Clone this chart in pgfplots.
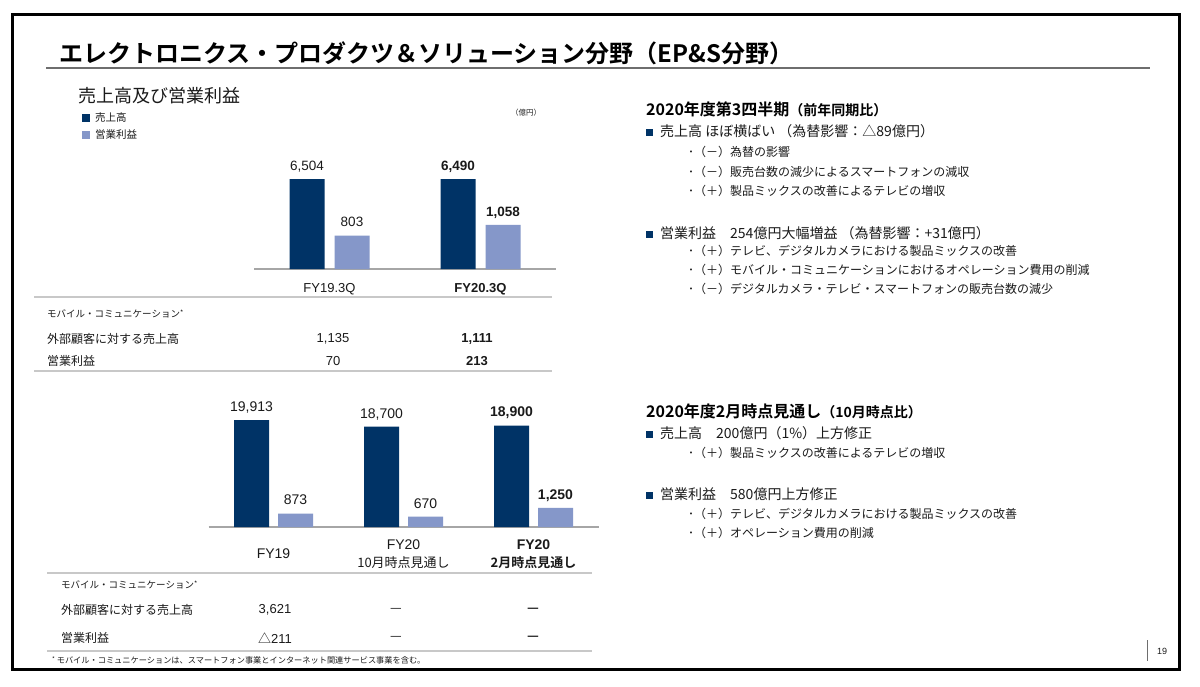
\documentclass[border=0pt]{standalone}
\usepackage{pgfplots}
\pgfplotsset{compat=1.18}
\usepackage{fontspec}
\setmainfont{Noto Sans CJK JP}[BoldFont={Noto Sans CJK JP Bold}]
\newfontfamily\ar{Liberation Sans}
\newcommand{\fs}[1]{\fontsize{#1}{#1}\selectfont}
\definecolor{navy}{HTML}{003366}
\definecolor{lightb}{HTML}{8597C9}
\definecolor{axgray}{HTML}{A6A6A6}
\definecolor{tblgray}{HTML}{C8C8C8}
\definecolor{ulgray}{HTML}{6E6E6E}
\definecolor{txt}{HTML}{1A1A1A}
\pgfplotsset{
  barbase/.style={scale only axis, ymin=0, clip=false,
    point meta=explicit symbolic, nodes near coords,
    every node near coord/.append style={anchor=south, inner sep=0pt, text depth=0pt, yshift=8.5pt, text=txt}},
}
\begin{document}
\begin{tikzpicture}[x=1pt,y=1pt]
\begin{scope}[y=-1pt]
\useasboundingbox (0,0) rectangle (1200,686);
\fill[white] (0,0) rectangle (1200,686);
% frame
\draw[line width=3pt] (12.5,14.5) rectangle (1179.5,669);
% title
\node[anchor=west,inner sep=0,text=black] at (59,53) {\fs{24}\bfseries エレクトロニクス・プロダクツ＆ソリューション分野（EP\&S分野）};
\draw[draw=ulgray,line width=2pt] (46,68) -- (1150,68);
% subtitle and legend
\node[anchor=west,inner sep=0,text=txt] at (78,96) {\fs{18}売上高及び営業利益};
\fill[navy] (82,114) rectangle (90,122);
\node[anchor=west,inner sep=0,text=txt] at (95,118) {\fs{10.5}売上高};
\fill[lightb] (82,131) rectangle (90,139);
\node[anchor=west,inner sep=0,text=txt] at (95,135) {\fs{10.5}営業利益};
\node[anchor=west,inner sep=0,text=txt] at (511,113) {\fs{7.5}（億円）};

% top table
\draw[draw=tblgray,line width=1.5pt] (34,297) -- (552,297);
\node[anchor=west,inner sep=0,text=txt] at (47,314) {\fs{9.5}モバイル・コミュニケーション\raisebox{2pt}{\fs{7}*}};
\node[anchor=west,inner sep=0,text=txt] at (47,339) {\fs{12}外部顧客に対する売上高};
\node[anchor=west,inner sep=0,text=txt] at (47,361) {\fs{12}営業利益};
\node[inner sep=0,text=txt] at (333,339) {\ar\fs{13}1,135};
\node[inner sep=0,text=txt] at (477,339) {\ar\fs{13}\textbf{1,111}};
\node[inner sep=0,text=txt] at (333,361) {\ar\fs{13}70};
\node[inner sep=0,text=txt] at (477,361) {\ar\fs{13}\textbf{213}};
\draw[draw=tblgray,line width=1.5pt] (34,371) -- (552,371);

% bottom table
\draw[draw=tblgray,line width=1.5pt] (47,573) -- (592,573);
\node[anchor=west,inner sep=0,text=txt] at (61,585) {\fs{9.5}モバイル・コミュニケーション\raisebox{2pt}{\fs{7}*}};
\node[anchor=west,inner sep=0,text=txt] at (61,610) {\fs{12}外部顧客に対する売上高};
\node[anchor=west,inner sep=0,text=txt] at (61,638) {\fs{12}営業利益};
\node[inner sep=0,text=txt] at (275,610) {\ar\fs{13}3,621};
\node[inner sep=0,text=txt] at (275,638) {\fs{13}△\ar 211};
\node[inner sep=0,text=txt] at (396,610) {\fs{13}—};
\node[inner sep=0,text=txt] at (533,610) {\fs{13}\bfseries —};
\node[inner sep=0,text=txt] at (396,638) {\fs{13}—};
\node[inner sep=0,text=txt] at (533,638) {\fs{13}\bfseries —};
\draw[draw=tblgray,line width=1.5pt] (47,651) -- (592,651);
\node[anchor=west,inner sep=0,text=txt] at (52,660) {\fs{8.2}\raisebox{2pt}{\fs{6}*} モバイル・コミュニケーションは、スマートフォン事業とインターネット関連サービス事業を含む。};

% ---------- right text: block 1 ----------
\node[anchor=west,inner sep=0,text=black] at (646,109) {\fs{16}\bfseries 2020年度第3四半期{\fs{14}（前年同期比）}};
\node[anchor=west,inner sep=0,text=txt] at (646,131) {\textcolor{navy}{\rule{7pt}{7pt}}\hspace{7pt}\fs{14}売上高 ほぼ横ばい （為替影響：△89億円）};
\node[anchor=west,inner sep=0,text=txt] at (688,152) {\fs{12}･（－）為替の影響};
\node[anchor=west,inner sep=0,text=txt] at (688,172) {\fs{12}･（－）販売台数の減少によるスマートフォンの減収};
\node[anchor=west,inner sep=0,text=txt] at (688,191) {\fs{12}･（＋）製品ミックスの改善によるテレビの増収};
\node[anchor=west,inner sep=0,text=txt] at (646,233) {\textcolor{navy}{\rule{7pt}{7pt}}\hspace{7pt}\fs{14}営業利益　254億円大幅増益 （為替影響：+31億円）};
\node[anchor=west,inner sep=0,text=txt] at (688,251) {\fs{12}･（＋）テレビ、デジタルカメラにおける製品ミックスの改善};
\node[anchor=west,inner sep=0,text=txt] at (688,270) {\fs{12}･（＋）モバイル・コミュニケーションにおけるオペレーション費用の削減};
\node[anchor=west,inner sep=0,text=txt] at (688,289) {\fs{12}･（－）デジタルカメラ・テレビ・スマートフォンの販売台数の減少};

% ---------- right text: block 2 ----------
\node[anchor=west,inner sep=0,text=black] at (646,411) {\fs{16}\bfseries 2020年度2月時点見通し{\fs{14}（10月時点比）}};
\node[anchor=west,inner sep=0,text=txt] at (646,433) {\textcolor{navy}{\rule{7pt}{7pt}}\hspace{7pt}\fs{14}売上高　200億円（1\%）上方修正};
\node[anchor=west,inner sep=0,text=txt] at (688,453) {\fs{12}･（＋）製品ミックスの改善によるテレビの増収};
\node[anchor=west,inner sep=0,text=txt] at (646,494) {\textcolor{navy}{\rule{7pt}{7pt}}\hspace{7pt}\fs{14}営業利益　580億円上方修正};
\node[anchor=west,inner sep=0,text=txt] at (688,514) {\fs{12}･（＋）テレビ、デジタルカメラにおける製品ミックスの改善};
\node[anchor=west,inner sep=0,text=txt] at (688,533) {\fs{12}･（＋）オペレーション費用の削減};

% page number
\draw[draw=ulgray,line width=0.8pt] (1147,640) -- (1147,661);
\node[inner sep=0,text=txt] at (1162,651) {\ar\fs{9}19};
\end{scope}

% ---------- top chart: sales ----------
\begin{axis}[barbase, at={(254pt,-269pt)}, anchor=south west,
  width=302pt, height=100pt, xmin=-0.5, xmax=1.5, ymax=7227,
  axis x line=bottom, axis y line=none,
  x axis line style={-,draw=axgray,line width=1.3pt},
  xtick={0,1}, xticklabels={FY19.3Q,\textbf{FY20.3Q}},
  xtick style={draw=none}, ytick=\empty,
  xticklabel style={font=\ar\fs{13}, anchor=center, yshift=-18pt, text=txt},
  every node near coord/.append style={font=\ar\fs{13.5}}]
\addplot[ybar, bar width=35pt, bar shift=-22.5pt, fill=navy, draw=none,
  every node near coord/.append style={xshift=-22.5pt}]
  coordinates {(0,6504) [6,504] (1,6490) [\textbf{6,490}]};
\end{axis}
% ---------- top chart: operating income ----------
\begin{axis}[barbase, at={(254pt,-269pt)}, anchor=south west, hide axis,
  width=302pt, height=100pt, xmin=-0.5, xmax=1.5, ymax=2400,
  every node near coord/.append style={font=\ar\fs{13.5}}]
\addplot[ybar, bar width=35pt, bar shift=22.5pt, fill=lightb, draw=none,
  every node near coord/.append style={xshift=22.5pt}]
  coordinates {(0,803) [803] (1,1058) [\textbf{1,058}]};
\end{axis}

% ---------- bottom chart: sales ----------
\begin{axis}[barbase, at={(208.5pt,-527pt)}, anchor=south west,
  width=390pt, height=120pt, xmin=-0.5, xmax=2.5, ymax=22380,
  axis x line=bottom, axis y line=none,
  x axis line style={-,draw=axgray,line width=1.3pt},
  xtick={0,1,2},
  xticklabels={{\ar\fs{14}FY19},{\ar\fs{14}FY20}\\10月時点見通し,{\ar\fs{14}\bfseries FY20}\\\textbf{2月時点見通し}},
  xtick style={draw=none}, ytick=\empty,
  xticklabel style={font=\fontsize{13}{18}\selectfont, align=center, anchor=center, yshift=-25pt, text=txt},
  every node near coord/.append style={font=\ar\fs{14}}]
\addplot[ybar, bar width=35pt, bar shift=-22pt, fill=navy, draw=none,
  every node near coord/.append style={xshift=-22pt}]
  coordinates {(0,19913) [19,913] (1,18700) [18,700] (2,18900) [\textbf{18,900}]};
\end{axis}
% ---------- bottom chart: operating income ----------
\begin{axis}[barbase, at={(208.5pt,-527pt)}, anchor=south west, hide axis,
  width=390pt, height=120pt, xmin=-0.5, xmax=2.5, ymax=7800,
  every node near coord/.append style={font=\ar\fs{14}}]
\addplot[ybar, bar width=35pt, bar shift=22pt, fill=lightb, draw=none,
  every node near coord/.append style={xshift=22pt}]
  coordinates {(0,873) [873] (1,670) [670] (2,1250) [\textbf{1,250}]};
\end{axis}
\end{tikzpicture}
\end{document}
